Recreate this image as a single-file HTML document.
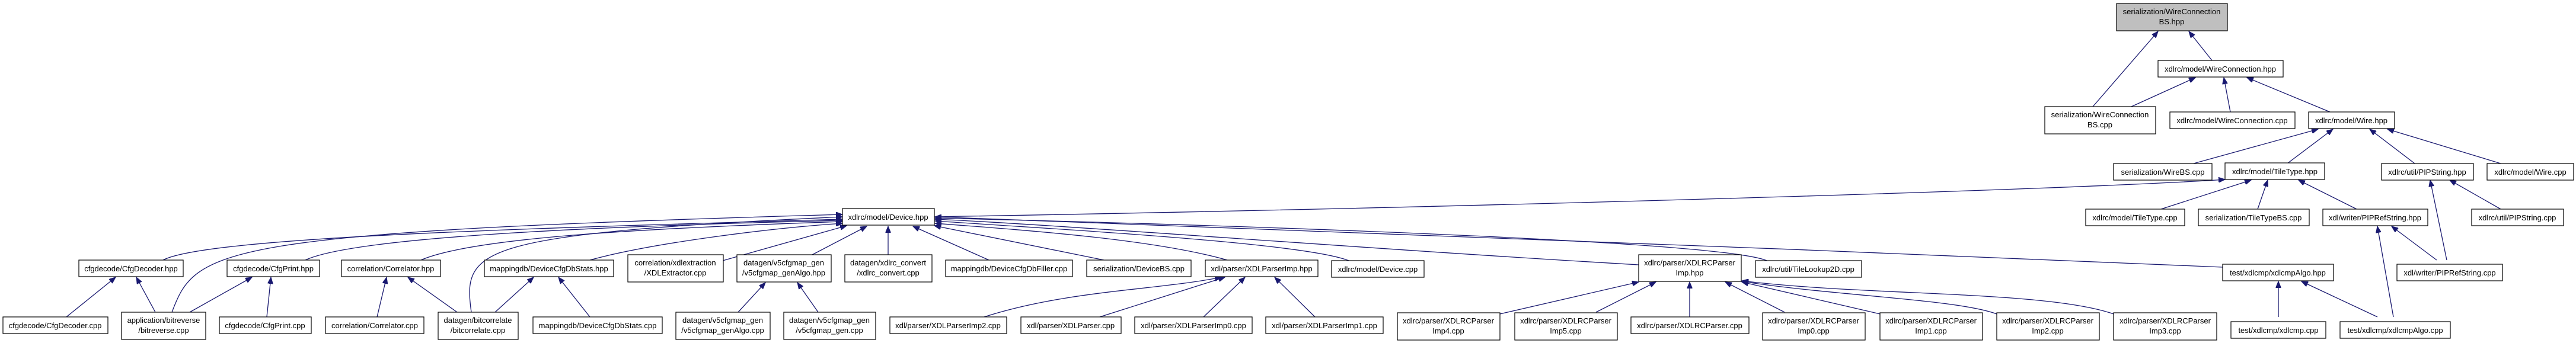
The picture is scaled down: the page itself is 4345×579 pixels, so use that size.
<!DOCTYPE html>
<html><head><meta charset="utf-8"><style>
html,body{margin:0;padding:0;background:#fff;}
svg{display:block;}
text{font-family:"Liberation Sans",sans-serif;font-size:13px;fill:#000;text-anchor:middle;}
rect{fill:#fff;stroke:#000;stroke-width:1.2;}
rect.g{fill:#bfbfbf;}
path{fill:none;stroke:#191970;stroke-width:1.3;}
</style></head><body>
<svg width="4345" height="579" viewBox="0 0 4345 579" xmlns="http://www.w3.org/2000/svg">
<defs>
<marker id="a" markerUnits="userSpaceOnUse" markerWidth="12" markerHeight="9" refX="11" refY="4.5" orient="auto">
<path d="M0,0 L11,4.5 L0,9 z" style="fill:#191970;stroke:#191970;stroke-width:1"/>
</marker>
</defs>
<g marker-end="url(#a)">
<!-- top area -->
<path d="M3530,180 L3640,53"/>
<path d="M3731,102 L3692,53"/>
<path d="M3595,180 L3703,131"/>
<path d="M3762,189 L3751,131"/>
<path d="M3930,189 L3790,131"/>
<path d="M3700,276 L3910,218"/>
<path d="M3858,276 L3935,218"/>
<path d="M4073,276 L3997,218"/>
<path d="M4218,276 L4027,218"/>
<path d="M3645,353 L3797,304"/>
<path d="M3808,353 L3825,304"/>
<path d="M3975,353 L3877,304"/>
<path d="M4218,353 L4132,304"/>
<path d="M4110,439 L4034,382"/>
<path d="M4127,439 L4099,304"/>
<path d="M3843,535 L3843,475"/>
<path d="M4010,535 L3882,475"/>
<path d="M4037,535 L4010,382"/>
<path d="M1576,366 C2500,350 3500,320 3753,303"/>
<!-- Device children left -->
<path d="M275,439 C350,400 900,385 1421,370"/>
<path d="M290,527 C330,420 360,392 1421,362"/>
<path d="M515,439 C600,400 1000,382 1421,372"/>
<path d="M710,439 C800,400 1100,385 1421,374"/>
<path d="M795,527 C780,420 800,395 1421,366"/>
<path d="M995,439 C1100,410 1300,385 1421,377"/>
<path d="M1219,440 L1428,381"/>
<path d="M1370,430 L1462,382"/>
<path d="M1498,430 L1498,382"/>
<path d="M1668,439 L1540,382"/>
<path d="M1862,439 L1576,381"/>
<path d="M2070,439 C1950,405 1750,390 1577,377"/>
<path d="M2275,440 C2200,410 1800,388 1577,373"/>
<path d="M2764,447 C2300,420 1800,380 1577,370"/>
<path d="M2980,440 C2900,405 2000,378 1577,368"/>
<path d="M3749,451 C3000,420 2000,378 1577,366"/>
<!-- lower left -->
<path d="M112,535 L195,468"/>
<path d="M262,527 L230,468"/>
<path d="M320,527 L425,468"/>
<path d="M450,535 L457,468"/>
<path d="M636,535 L652,468"/>
<path d="M771,527 L688,468"/>
<path d="M835,527 L900,468"/>
<path d="M995,535 L942,468"/>
<path d="M1245,527 L1291,477"/>
<path d="M1380,527 L1345,477"/>
<path d="M1660,535 C1800,490 1950,490 2060,468"/>
<path d="M1855,535 L2066,468"/>
<path d="M2030,535 L2100,468"/>
<path d="M2218,535 L2150,468"/>
<path d="M2530,530 L2764,476"/>
<path d="M2692,527 L2793,476"/>
<path d="M2850,535 L2850,476"/>
<path d="M3010,527 L2910,476"/>
<path d="M3171,530 L2938,476"/>
<path d="M3368,530 C3300,505 3100,500 2938,475"/>
<path d="M3565,530 C3450,490 3150,500 2938,474"/>
</g>
<!-- nodes -->
<rect class="g" x="3570" y="6" width="187" height="46"/><text x="3663" y="24">serialization/WireConnection</text><text x="3663" y="41">BS.hpp</text>
<rect x="3640" y="102" width="211" height="28"/><text x="3745" y="121">xdlrc/model/WireConnection.hpp</text>
<rect x="3449" y="180" width="187" height="46"/><text x="3542" y="198">serialization/WireConnection</text><text x="3542" y="215">BS.cpp</text>
<rect x="3660" y="189" width="211" height="28"/><text x="3765" y="208">xdlrc/model/WireConnection.cpp</text>
<rect x="3894" y="189" width="145" height="28"/><text x="3966" y="208">xdlrc/model/Wire.hpp</text>
<rect x="3565" y="276" width="166" height="28"/><text x="3648" y="295">serialization/WireBS.cpp</text>
<rect x="3753" y="275" width="168" height="28"/><text x="3837" y="294">xdlrc/model/TileType.hpp</text>
<rect x="4017" y="276" width="155" height="28"/><text x="4094" y="295">xdlrc/util/PIPString.hpp</text>
<rect x="4195" y="276" width="146" height="28"/><text x="4268" y="295">xdlrc/model/Wire.cpp</text>
<rect x="3518" y="353" width="167" height="28"/><text x="3601" y="372">xdlrc/model/TileType.cpp</text>
<rect x="3708" y="353" width="187" height="28"/><text x="3801" y="372">serialization/TileTypeBS.cpp</text>
<rect x="3918" y="353" width="177" height="28"/><text x="4006" y="372">xdl/writer/PIPRefString.hpp</text>
<rect x="4169" y="353" width="155" height="28"/><text x="4246" y="372">xdlrc/util/PIPString.cpp</text>
<rect x="3749" y="446" width="187" height="28"/><text x="3842" y="465">test/xdlcmp/xdlcmpAlgo.hpp</text>
<rect x="4043" y="446" width="178" height="28"/><text x="4132" y="465">xdl/writer/PIPRefString.cpp</text>
<rect x="3763" y="543" width="160" height="28"/><text x="3843" y="562">test/xdlcmp/xdlcmp.cpp</text>
<rect x="3947" y="543" width="186" height="28"/><text x="4040" y="562">test/xdlcmp/xdlcmpAlgo.cpp</text>
<rect x="3368" y="528" width="173" height="46"/><text x="3454" y="546">xdlrc/parser/XDLRCParser</text><text x="3454" y="563">Imp2.cpp</text>
<rect x="3565" y="528" width="174" height="46"/><text x="3652" y="546">xdlrc/parser/XDLRCParser</text><text x="3652" y="563">Imp3.cpp</text>
<rect x="3171" y="528" width="173" height="46"/><text x="3257" y="546">xdlrc/parser/XDLRCParser</text><text x="3257" y="563">Imp1.cpp</text>
<rect x="2973" y="528" width="173" height="46"/><text x="3059" y="546">xdlrc/parser/XDLRCParser</text><text x="3059" y="563">Imp0.cpp</text>
<rect x="2751" y="535" width="199" height="28"/><text x="2850" y="554">xdlrc/parser/XDLRCParser.cpp</text>
<rect x="2555" y="528" width="173" height="46"/><text x="2641" y="546">xdlrc/parser/XDLRCParser</text><text x="2641" y="563">Imp5.cpp</text>
<rect x="2357" y="528" width="173" height="46"/><text x="2443" y="546">xdlrc/parser/XDLRCParser</text><text x="2443" y="563">Imp4.cpp</text>
<rect x="2246" y="440" width="156" height="28"/><text x="2324" y="459">xdlrc/model/Device.cpp</text>
<rect x="2764" y="430" width="173" height="45"/><text x="2850" y="448">xdlrc/parser/XDLRCParser</text><text x="2850" y="465">Imp.hpp</text>
<rect x="2961" y="440" width="179" height="28"/><text x="3050" y="459">xdlrc/util/TileLookup2D.cpp</text>
<rect x="1421" y="352" width="155" height="28"/><text x="1498" y="371">xdlrc/model/Device.hpp</text>
<rect x="1059" y="430" width="161" height="46"/><text x="1139" y="448">correlation/xdlextraction</text><text x="1139" y="465">/XDLExtractor.cpp</text>
<rect x="1243" y="430" width="159" height="46"/><text x="1322" y="448">datagen/v5cfgmap_gen</text><text x="1322" y="465">/v5cfgmap_genAlgo.hpp</text>
<rect x="1425" y="430" width="147" height="46"/><text x="1498" y="448">datagen/xdlrc_convert</text><text x="1498" y="465">/xdlrc_convert.cpp</text>
<rect x="1595" y="439" width="214" height="28"/><text x="1702" y="458">mappingdb/DeviceCfgDbFiller.cpp</text>
<rect x="1833" y="439" width="176" height="28"/><text x="1921" y="458">serialization/DeviceBS.cpp</text>
<rect x="2033" y="439" width="190" height="28"/><text x="2128" y="458">xdl/parser/XDLParserImp.hpp</text>
<rect x="1140" y="527" width="159" height="46"/><text x="1219" y="545">datagen/v5cfgmap_gen</text><text x="1219" y="562">/v5cfgmap_genAlgo.cpp</text>
<rect x="1322" y="527" width="155" height="46"/><text x="1399" y="545">datagen/v5cfgmap_gen</text><text x="1399" y="562">/v5cfgmap_gen.cpp</text>
<rect x="1501" y="535" width="197" height="28"/><text x="1599" y="554">xdl/parser/XDLParserImp2.cpp</text>
<rect x="1722" y="535" width="169" height="28"/><text x="1806" y="554">xdl/parser/XDLParser.cpp</text>
<rect x="1914" y="535" width="198" height="28"/><text x="2013" y="554">xdl/parser/XDLParserImp0.cpp</text>
<rect x="2135" y="535" width="198" height="28"/><text x="2234" y="554">xdl/parser/XDLParserImp1.cpp</text>
<rect x="133" y="439" width="176" height="28"/><text x="221" y="458">cfgdecode/CfgDecoder.hpp</text>
<rect x="383" y="439" width="156" height="28"/><text x="461" y="458">cfgdecode/CfgPrint.hpp</text>
<rect x="576" y="439" width="167" height="28"/><text x="659" y="458">correlation/Correlator.hpp</text>
<rect x="817" y="439" width="218" height="28"/><text x="926" y="458">mappingdb/DeviceCfgDbStats.hpp</text>
<rect x="5" y="535" width="177" height="28"/><text x="93" y="554">cfgdecode/CfgDecoder.cpp</text>
<rect x="205" y="527" width="142" height="46"/><text x="276" y="545">application/bitreverse</text><text x="276" y="562">/bitreverse.cpp</text>
<rect x="370" y="535" width="155" height="28"/><text x="447" y="554">cfgdecode/CfgPrint.cpp</text>
<rect x="549" y="535" width="166" height="28"/><text x="632" y="554">correlation/Correlator.cpp</text>
<rect x="739" y="527" width="135" height="46"/><text x="806" y="545">datagen/bitcorrelate</text><text x="806" y="562">/bitcorrelate.cpp</text>
<rect x="899" y="535" width="218" height="28"/><text x="1008" y="554">mappingdb/DeviceCfgDbStats.cpp</text>
</svg>
</body></html>
